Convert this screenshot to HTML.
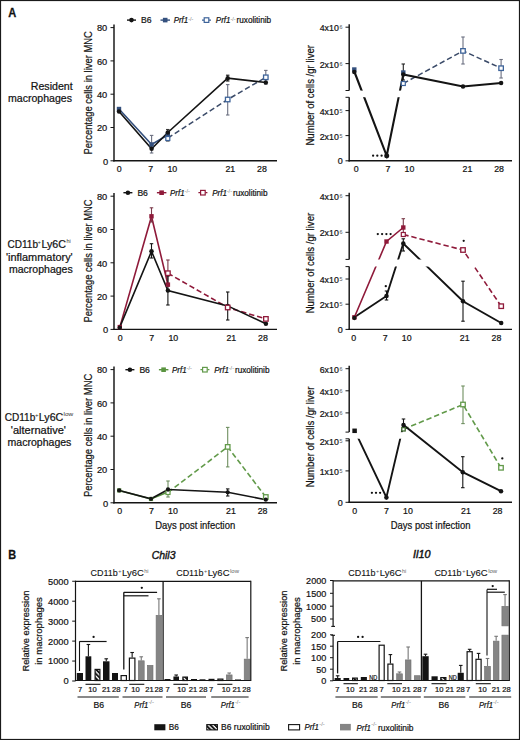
<!DOCTYPE html><html><head><meta charset="utf-8"><style>html,body{margin:0;padding:0;background:#fff;}svg{display:block;} text{stroke:#151515;stroke-width:0.22px;}</style></head><body>
<svg width="520" height="740" viewBox="0 0 520 740" font-family='"Liberation Sans", sans-serif' fill="#111">
<rect x="0" y="0" width="520" height="740" fill="#fff" stroke="none" stroke-width="1"/>
<text x="8.2" y="16.5" font-size="12.8" text-anchor="start" font-weight="bold" textLength="8.0" lengthAdjust="spacingAndGlyphs" style="stroke-width:0.3px">A</text>
<text x="8.3" y="559.1" font-size="12.8" text-anchor="start" font-weight="bold" textLength="7.9" lengthAdjust="spacingAndGlyphs" style="stroke-width:0.3px">B</text>
<text x="30.8" y="89.6" font-size="10.6" text-anchor="start" textLength="41.9" lengthAdjust="spacingAndGlyphs">Resident</text>
<text x="8" y="101.7" font-size="10.6" text-anchor="start" textLength="64" lengthAdjust="spacingAndGlyphs">macrophages</text>
<g transform="translate(0,0)">
<line x1="127" y1="20.1" x2="136" y2="20.1" stroke="#141414" stroke-width="1.4"/>
<circle cx="131.5" cy="20.1" r="2.3" fill="#141414"/>
<text x="141" y="23.3" font-size="8.6" text-anchor="start" textLength="10.5" lengthAdjust="spacingAndGlyphs">B6</text>
<line x1="160.5" y1="20.1" x2="170" y2="20.1" stroke="#34507e" stroke-width="1.4"/>
<rect x="162.89999999999998" y="17.8" width="4.6" height="4.6" fill="#34507e" stroke="none" stroke-width="1"/>
<text x="173.7" y="23.3" font-size="8.6" text-anchor="start" font-style="italic" textLength="14.5" lengthAdjust="spacingAndGlyphs">Prf1</text>
<text x="188.2" y="20.700000000000003" font-size="4.8" text-anchor="start" fill="#777" style="stroke:none" textLength="5.2" lengthAdjust="spacingAndGlyphs">-/-</text>
<line x1="202" y1="20.1" x2="211.4" y2="20.1" stroke="#3d6399" stroke-width="1.3" stroke-dasharray="2,1.5"/>
<rect x="204.2" y="17.8" width="4.6" height="4.6" fill="#fff" stroke="#3d6399" stroke-width="1.2"/>
<text x="215.8" y="23.3" font-size="8.6" text-anchor="start" font-style="italic" textLength="14.7" lengthAdjust="spacingAndGlyphs">Prf1</text>
<text x="230.4" y="20.700000000000003" font-size="4.8" text-anchor="start" fill="#777" style="stroke:none" textLength="5.2" lengthAdjust="spacingAndGlyphs">-/-</text>
<text x="236.5" y="23.3" font-size="8.6" text-anchor="start" textLength="34.6" lengthAdjust="spacingAndGlyphs">ruxolitinib</text>
</g>
<line x1="114" y1="24.400000000000023" x2="114" y2="161.4" stroke="#141414" stroke-width="1.45"/>
<line x1="113.3" y1="160.8" x2="277" y2="160.8" stroke="#141414" stroke-width="1.4"/>
<line x1="110.5" y1="160.8" x2="114" y2="160.8" stroke="#141414" stroke-width="1"/>
<text x="108.10000000000001" y="164.5" font-size="9.6" text-anchor="end" textLength="5.2" lengthAdjust="spacingAndGlyphs">0</text>
<line x1="110.5" y1="127.50000000000001" x2="114" y2="127.50000000000001" stroke="#141414" stroke-width="1"/>
<text x="107.2" y="131.20000000000002" font-size="9.6" text-anchor="end" textLength="10.3" lengthAdjust="spacingAndGlyphs">20</text>
<line x1="110.5" y1="94.20000000000002" x2="114" y2="94.20000000000002" stroke="#141414" stroke-width="1"/>
<text x="107.2" y="97.90000000000002" font-size="9.6" text-anchor="end" textLength="10.3" lengthAdjust="spacingAndGlyphs">40</text>
<line x1="110.5" y1="60.90000000000002" x2="114" y2="60.90000000000002" stroke="#141414" stroke-width="1"/>
<text x="107.2" y="64.60000000000002" font-size="9.6" text-anchor="end" textLength="10.3" lengthAdjust="spacingAndGlyphs">60</text>
<line x1="110.5" y1="27.600000000000023" x2="114" y2="27.600000000000023" stroke="#141414" stroke-width="1"/>
<text x="107.2" y="31.300000000000022" font-size="9.6" text-anchor="end" textLength="10.3" lengthAdjust="spacingAndGlyphs">80</text>
<text transform="translate(91.8,92.8) rotate(-90)" font-size="10.8" text-anchor="middle" textLength="123.2" lengthAdjust="spacingAndGlyphs">Percentage cells in liver MNC</text>
<text x="119.2" y="172.2" font-size="8.8" text-anchor="middle">0</text>
<text x="150.8" y="172.2" font-size="8.8" text-anchor="middle">7</text>
<text x="172.3" y="172.2" font-size="8.8" text-anchor="middle">10</text>
<text x="230.3" y="172.2" font-size="8.8" text-anchor="middle">21</text>
<text x="262.0" y="172.2" font-size="8.8" text-anchor="middle">28</text>
<polyline points="167.8,138 227.7,99.5 265.8,77.3" fill="none" stroke="#3a4a68" stroke-width="1.5" stroke-dasharray="5.4,2.9" stroke-linejoin="miter"/>
<polyline points="119,109 151.6,144.5 167.8,135" fill="none" stroke="#34507e" stroke-width="1.6" stroke-linejoin="miter"/>
<polyline points="119,111.5 151.6,148.8 167.8,132.5 227.7,78.2 265.8,82.5" fill="none" stroke="#141414" stroke-width="1.6" stroke-linejoin="miter"/>
<line x1="151.6" y1="135.4" x2="151.6" y2="153" stroke="#6b6f80" stroke-width="1.1"/>
<line x1="149.85" y1="135.4" x2="153.35" y2="135.4" stroke="#6b6f80" stroke-width="1.1"/>
<line x1="149.85" y1="153" x2="153.35" y2="153" stroke="#6b6f80" stroke-width="1.1"/>
<line x1="167.8" y1="129.5" x2="167.8" y2="141" stroke="#333" stroke-width="1.1"/>
<line x1="166.05" y1="129.5" x2="169.55" y2="129.5" stroke="#333" stroke-width="1.1"/>
<line x1="166.05" y1="141" x2="169.55" y2="141" stroke="#333" stroke-width="1.1"/>
<line x1="227.7" y1="75.2" x2="227.7" y2="81" stroke="#141414" stroke-width="1.1"/>
<line x1="225.95" y1="75.2" x2="229.45" y2="75.2" stroke="#141414" stroke-width="1.1"/>
<line x1="225.95" y1="81" x2="229.45" y2="81" stroke="#141414" stroke-width="1.1"/>
<line x1="227.7" y1="84.6" x2="227.7" y2="115" stroke="#6b6f80" stroke-width="1.1"/>
<line x1="225.95" y1="84.6" x2="229.45" y2="84.6" stroke="#6b6f80" stroke-width="1.1"/>
<line x1="225.95" y1="115" x2="229.45" y2="115" stroke="#6b6f80" stroke-width="1.1"/>
<line x1="265.8" y1="70.4" x2="265.8" y2="84" stroke="#6b6f80" stroke-width="1.1"/>
<line x1="264.05" y1="70.4" x2="267.55" y2="70.4" stroke="#6b6f80" stroke-width="1.1"/>
<line x1="264.05" y1="84" x2="267.55" y2="84" stroke="#6b6f80" stroke-width="1.1"/>
<rect x="116.8" y="106.8" width="4.4" height="4.4" fill="#34507e" stroke="none" stroke-width="1"/>
<circle cx="119" cy="111.5" r="2.25" fill="#141414"/>
<rect x="149.4" y="142.3" width="4.4" height="4.4" fill="#34507e" stroke="none" stroke-width="1"/>
<circle cx="151.6" cy="148.8" r="2.25" fill="#141414"/>
<rect x="165.60000000000002" y="132.8" width="4.4" height="4.4" fill="#34507e" stroke="none" stroke-width="1"/>
<circle cx="167.8" cy="132.5" r="2.25" fill="#141414"/>
<rect x="165.8" y="136.5" width="4.0" height="4.0" fill="#fff" stroke="#3d6399" stroke-width="1.2"/>
<circle cx="227.7" cy="78.2" r="2.25" fill="#141414"/>
<rect x="225.45" y="97.25" width="4.5" height="4.5" fill="#fff" stroke="#3d6399" stroke-width="1.3"/>
<circle cx="265.8" cy="82.5" r="2.25" fill="#141414"/>
<rect x="263.55" y="75.05" width="4.5" height="4.5" fill="#fff" stroke="#3d6399" stroke-width="1.3"/>
<line x1="349.2" y1="24.2" x2="349.2" y2="90.5" stroke="#141414" stroke-width="1.45"/>
<line x1="349.2" y1="97.3" x2="349.2" y2="161.4" stroke="#141414" stroke-width="1.45"/>
<line x1="345.5" y1="90.5" x2="349.2" y2="90.5" stroke="#141414" stroke-width="1"/>
<line x1="345.5" y1="97.3" x2="349.2" y2="97.3" stroke="#141414" stroke-width="1"/>
<line x1="348.5" y1="160.8" x2="512" y2="160.8" stroke="#141414" stroke-width="1.4"/>
<line x1="345.5" y1="27.2" x2="349.2" y2="27.2" stroke="#141414" stroke-width="1"/>
<text x="338.8" y="31.099999999999998" font-size="8.8" text-anchor="end">4x10</text>
<text x="339.6" y="29.099999999999998" font-size="5.4" text-anchor="start" fill="#555" style="stroke:none">6</text>
<line x1="345.5" y1="63.6" x2="349.2" y2="63.6" stroke="#141414" stroke-width="1"/>
<text x="338.8" y="67.5" font-size="8.8" text-anchor="end">2x10</text>
<text x="339.6" y="65.5" font-size="5.4" text-anchor="start" fill="#555" style="stroke:none">6</text>
<line x1="345.5" y1="110.6" x2="349.2" y2="110.6" stroke="#141414" stroke-width="1"/>
<text x="338.8" y="114.5" font-size="8.8" text-anchor="end">4x10</text>
<text x="339.6" y="112.5" font-size="5.4" text-anchor="start" fill="#555" style="stroke:none">5</text>
<line x1="345.5" y1="135.6" x2="349.2" y2="135.6" stroke="#141414" stroke-width="1"/>
<text x="338.8" y="139.5" font-size="8.8" text-anchor="end">2x10</text>
<text x="339.6" y="137.5" font-size="5.4" text-anchor="start" fill="#555" style="stroke:none">5</text>
<line x1="345.5" y1="160.8" x2="349.2" y2="160.8" stroke="#141414" stroke-width="1"/>
<text x="342.8" y="164.0" font-size="9" text-anchor="end">0</text>
<text transform="translate(314.2,95.3) rotate(-90)" font-size="10.8" text-anchor="middle" textLength="100.5" lengthAdjust="spacingAndGlyphs">Number of cells /gr liver</text>
<text x="356.3" y="172.2" font-size="8.8" text-anchor="middle">0</text>
<text x="387.9" y="172.2" font-size="8.8" text-anchor="middle">7</text>
<text x="409.4" y="172.2" font-size="8.8" text-anchor="middle">10</text>
<text x="467.4" y="172.2" font-size="8.8" text-anchor="middle">21</text>
<text x="499.1" y="172.2" font-size="8.8" text-anchor="middle">28</text>
<polyline points="403.3,83.5 463,50.9 501.1,68.2" fill="none" stroke="#3a4a68" stroke-width="1.5" stroke-dasharray="5.4,2.9" stroke-linejoin="miter"/>
<polyline points="354.3,71.5 386.7,155.8 403.3,74.4 463,86.5 501.1,83" fill="none" stroke="#141414" stroke-width="2.1" stroke-linejoin="miter"/>
<rect x="350.5" y="90.6" width="60" height="6.6" fill="#fff" stroke="none" stroke-width="1"/>
<line x1="403.3" y1="64" x2="403.3" y2="80" stroke="#222" stroke-width="1.1"/>
<line x1="401.55" y1="64" x2="405.05" y2="64" stroke="#222" stroke-width="1.1"/>
<line x1="401.55" y1="80" x2="405.05" y2="80" stroke="#222" stroke-width="1.1"/>
<line x1="463" y1="37" x2="463" y2="64" stroke="#6b6f80" stroke-width="1.1"/>
<line x1="461.25" y1="37" x2="464.75" y2="37" stroke="#6b6f80" stroke-width="1.1"/>
<line x1="461.25" y1="64" x2="464.75" y2="64" stroke="#6b6f80" stroke-width="1.1"/>
<line x1="501.1" y1="59.5" x2="501.1" y2="78" stroke="#6b6f80" stroke-width="1.1"/>
<line x1="499.35" y1="59.5" x2="502.85" y2="59.5" stroke="#6b6f80" stroke-width="1.1"/>
<line x1="499.35" y1="78" x2="502.85" y2="78" stroke="#6b6f80" stroke-width="1.1"/>
<rect x="352.1" y="67.3" width="4.4" height="4.4" fill="#34507e" stroke="none" stroke-width="1"/>
<circle cx="354.3" cy="72" r="2.25" fill="#141414"/>
<circle cx="386.7" cy="155.8" r="2.5" fill="#141414"/>
<rect x="401.1" y="70.3" width="4.4" height="4.4" fill="#34507e" stroke="none" stroke-width="1"/>
<circle cx="403.3" cy="74.4" r="2.25" fill="#141414"/>
<rect x="401.3" y="81.5" width="4.0" height="4.0" fill="#fff" stroke="#3d6399" stroke-width="1.2"/>
<circle cx="463" cy="86.5" r="2.25" fill="#141414"/>
<rect x="460.75" y="48.65" width="4.5" height="4.5" fill="#fff" stroke="#3d6399" stroke-width="1.3"/>
<circle cx="501.1" cy="83" r="2.25" fill="#141414"/>
<rect x="498.85" y="65.95" width="4.5" height="4.5" fill="#fff" stroke="#3d6399" stroke-width="1.3"/>
<circle cx="373.1" cy="155.7" r="1.15" fill="#111"/>
<circle cx="377.3" cy="155.7" r="1.15" fill="#111"/>
<circle cx="381.6" cy="155.7" r="1.15" fill="#111"/>
<text x="7.5" y="248.3" font-size="10.6" text-anchor="start" textLength="30.5" lengthAdjust="spacingAndGlyphs">CD11b</text>
<text x="37.6" y="244.0" font-size="6" text-anchor="start" fill="#333" style="stroke:none">+</text>
<text x="41.5" y="248.3" font-size="10.6" text-anchor="start" textLength="24.5" lengthAdjust="spacingAndGlyphs">Ly6C</text>
<text x="66.5" y="243.2" font-size="5.5" text-anchor="start" fill="#333" style="stroke:none">hi</text>
<text x="6" y="261.0" font-size="10.6" text-anchor="start" textLength="66.7" lengthAdjust="spacingAndGlyphs">'inflammatory'</text>
<text x="9" y="272.9" font-size="10.6" text-anchor="start" textLength="63.7" lengthAdjust="spacingAndGlyphs">macrophages</text>
<g transform="translate(-3.6,0)">
<line x1="127" y1="192.7" x2="136" y2="192.7" stroke="#141414" stroke-width="1.4"/>
<circle cx="131.5" cy="192.7" r="2.3" fill="#141414"/>
<text x="141" y="195.89999999999998" font-size="8.6" text-anchor="start" textLength="10.5" lengthAdjust="spacingAndGlyphs">B6</text>
<line x1="160.5" y1="192.7" x2="170" y2="192.7" stroke="#8f1a3a" stroke-width="1.4"/>
<rect x="162.89999999999998" y="190.39999999999998" width="4.6" height="4.6" fill="#8f1a3a" stroke="none" stroke-width="1"/>
<text x="173.7" y="195.89999999999998" font-size="8.6" text-anchor="start" font-style="italic" textLength="14.5" lengthAdjust="spacingAndGlyphs">Prf1</text>
<text x="188.2" y="193.29999999999998" font-size="4.8" text-anchor="start" fill="#777" style="stroke:none" textLength="5.2" lengthAdjust="spacingAndGlyphs">-/-</text>
<line x1="202" y1="192.7" x2="211.4" y2="192.7" stroke="#8f1a3a" stroke-width="1.3" stroke-dasharray="2,1.5"/>
<rect x="204.2" y="190.39999999999998" width="4.6" height="4.6" fill="#fff" stroke="#8f1a3a" stroke-width="1.2"/>
<text x="215.8" y="195.89999999999998" font-size="8.6" text-anchor="start" font-style="italic" textLength="14.7" lengthAdjust="spacingAndGlyphs">Prf1</text>
<text x="230.4" y="193.29999999999998" font-size="4.8" text-anchor="start" fill="#777" style="stroke:none" textLength="5.2" lengthAdjust="spacingAndGlyphs">-/-</text>
<text x="236.5" y="195.89999999999998" font-size="8.6" text-anchor="start" textLength="34.6" lengthAdjust="spacingAndGlyphs">ruxolitinib</text>
</g>
<line x1="114" y1="193.0" x2="114" y2="330.0" stroke="#141414" stroke-width="1.45"/>
<line x1="113.3" y1="329.4" x2="277" y2="329.4" stroke="#141414" stroke-width="1.4"/>
<line x1="110.5" y1="329.4" x2="114" y2="329.4" stroke="#141414" stroke-width="1"/>
<text x="108.10000000000001" y="333.09999999999997" font-size="9.6" text-anchor="end" textLength="5.2" lengthAdjust="spacingAndGlyphs">0</text>
<line x1="110.5" y1="296.09999999999997" x2="114" y2="296.09999999999997" stroke="#141414" stroke-width="1"/>
<text x="107.2" y="299.79999999999995" font-size="9.6" text-anchor="end" textLength="10.3" lengthAdjust="spacingAndGlyphs">20</text>
<line x1="110.5" y1="262.79999999999995" x2="114" y2="262.79999999999995" stroke="#141414" stroke-width="1"/>
<text x="107.2" y="266.49999999999994" font-size="9.6" text-anchor="end" textLength="10.3" lengthAdjust="spacingAndGlyphs">40</text>
<line x1="110.5" y1="229.5" x2="114" y2="229.5" stroke="#141414" stroke-width="1"/>
<text x="107.2" y="233.2" font-size="9.6" text-anchor="end" textLength="10.3" lengthAdjust="spacingAndGlyphs">60</text>
<line x1="110.5" y1="196.2" x2="114" y2="196.2" stroke="#141414" stroke-width="1"/>
<text x="107.2" y="199.89999999999998" font-size="9.6" text-anchor="end" textLength="10.3" lengthAdjust="spacingAndGlyphs">80</text>
<text transform="translate(91.8,261) rotate(-90)" font-size="10.8" text-anchor="middle" textLength="123.2" lengthAdjust="spacingAndGlyphs">Percentage cells in liver MNC</text>
<text x="120.2" y="340.9" font-size="8.8" text-anchor="middle">0</text>
<text x="151.8" y="340.9" font-size="8.8" text-anchor="middle">7</text>
<text x="173.3" y="340.9" font-size="8.8" text-anchor="middle">10</text>
<text x="231.3" y="340.9" font-size="8.8" text-anchor="middle">21</text>
<text x="263.0" y="340.9" font-size="8.8" text-anchor="middle">28</text>
<polyline points="167.9,273.2 227.7,307.5 265.9,318.9" fill="none" stroke="#8f1a3a" stroke-width="1.6" stroke-dasharray="5.4,2.9" stroke-linejoin="miter"/>
<polyline points="119.8,327.1 151.5,216.5 167.9,284.6" fill="none" stroke="#8f1a3a" stroke-width="1.6" stroke-linejoin="miter"/>
<polyline points="119.8,327.1 151.5,251.3 167.9,290.5 227.7,305.9 265.9,323.8" fill="none" stroke="#141414" stroke-width="1.6" stroke-linejoin="miter"/>
<line x1="151.5" y1="207.8" x2="151.5" y2="222" stroke="#7a3a4a" stroke-width="1.1"/>
<line x1="149.75" y1="207.8" x2="153.25" y2="207.8" stroke="#7a3a4a" stroke-width="1.1"/>
<line x1="149.75" y1="222" x2="153.25" y2="222" stroke="#7a3a4a" stroke-width="1.1"/>
<line x1="151.5" y1="243.7" x2="151.5" y2="258" stroke="#141414" stroke-width="1.1"/>
<line x1="149.75" y1="243.7" x2="153.25" y2="243.7" stroke="#141414" stroke-width="1.1"/>
<line x1="149.75" y1="258" x2="153.25" y2="258" stroke="#141414" stroke-width="1.1"/>
<line x1="167.9" y1="260" x2="167.9" y2="286" stroke="#7a3a4a" stroke-width="1.1"/>
<line x1="166.15" y1="260" x2="169.65" y2="260" stroke="#7a3a4a" stroke-width="1.1"/>
<line x1="166.15" y1="286" x2="169.65" y2="286" stroke="#7a3a4a" stroke-width="1.1"/>
<line x1="167.9" y1="276" x2="167.9" y2="305" stroke="#141414" stroke-width="1.1"/>
<line x1="166.15" y1="276" x2="169.65" y2="276" stroke="#141414" stroke-width="1.1"/>
<line x1="166.15" y1="305" x2="169.65" y2="305" stroke="#141414" stroke-width="1.1"/>
<line x1="227.7" y1="292" x2="227.7" y2="320" stroke="#141414" stroke-width="1.1"/>
<line x1="225.95" y1="292" x2="229.45" y2="292" stroke="#141414" stroke-width="1.1"/>
<line x1="225.95" y1="320" x2="229.45" y2="320" stroke="#141414" stroke-width="1.1"/>
<rect x="117.6" y="324.90000000000003" width="4.4" height="4.4" fill="#8f1a3a" stroke="none" stroke-width="1"/>
<circle cx="119.8" cy="327.6" r="2.15" fill="#141414"/>
<rect x="149.3" y="214.10000000000002" width="4.4" height="4.4" fill="#8f1a3a" stroke="none" stroke-width="1"/>
<circle cx="151.5" cy="251.3" r="2.25" fill="#141414"/>
<rect x="165.70000000000002" y="282.40000000000003" width="4.4" height="4.4" fill="#8f1a3a" stroke="none" stroke-width="1"/>
<circle cx="167.9" cy="290.5" r="2.25" fill="#141414"/>
<rect x="165.65" y="270.95" width="4.5" height="4.5" fill="#fff" stroke="#8f1a3a" stroke-width="1.3"/>
<circle cx="227.7" cy="305.9" r="2.25" fill="#141414"/>
<rect x="225.45" y="305.25" width="4.5" height="4.5" fill="#fff" stroke="#8f1a3a" stroke-width="1.3"/>
<circle cx="265.9" cy="323.8" r="2.25" fill="#141414"/>
<rect x="263.65" y="316.65" width="4.5" height="4.5" fill="#fff" stroke="#8f1a3a" stroke-width="1.3"/>
<line x1="349.2" y1="192.7" x2="349.2" y2="259.4" stroke="#141414" stroke-width="1.45"/>
<line x1="349.2" y1="266.6" x2="349.2" y2="330.0" stroke="#141414" stroke-width="1.45"/>
<line x1="345.5" y1="259.4" x2="349.2" y2="259.4" stroke="#141414" stroke-width="1"/>
<line x1="345.5" y1="266.6" x2="349.2" y2="266.6" stroke="#141414" stroke-width="1"/>
<line x1="348.5" y1="329.4" x2="512" y2="329.4" stroke="#141414" stroke-width="1.4"/>
<line x1="345.5" y1="195.7" x2="349.2" y2="195.7" stroke="#141414" stroke-width="1"/>
<text x="338.8" y="199.6" font-size="8.8" text-anchor="end">4x10</text>
<text x="339.6" y="197.6" font-size="5.4" text-anchor="start" fill="#555" style="stroke:none">6</text>
<line x1="345.5" y1="232.3" x2="349.2" y2="232.3" stroke="#141414" stroke-width="1"/>
<text x="338.8" y="236.20000000000002" font-size="8.8" text-anchor="end">2x10</text>
<text x="339.6" y="234.20000000000002" font-size="5.4" text-anchor="start" fill="#555" style="stroke:none">6</text>
<line x1="345.5" y1="279" x2="349.2" y2="279" stroke="#141414" stroke-width="1"/>
<text x="338.8" y="282.9" font-size="8.8" text-anchor="end">4x10</text>
<text x="339.6" y="280.9" font-size="5.4" text-anchor="start" fill="#555" style="stroke:none">5</text>
<line x1="345.5" y1="304.2" x2="349.2" y2="304.2" stroke="#141414" stroke-width="1"/>
<text x="338.8" y="308.09999999999997" font-size="8.8" text-anchor="end">2x10</text>
<text x="339.6" y="306.09999999999997" font-size="5.4" text-anchor="start" fill="#555" style="stroke:none">5</text>
<line x1="345.5" y1="329.4" x2="349.2" y2="329.4" stroke="#141414" stroke-width="1"/>
<text x="342.8" y="332.59999999999997" font-size="9" text-anchor="end">0</text>
<text transform="translate(314.2,263.1) rotate(-90)" font-size="10.8" text-anchor="middle" textLength="100.5" lengthAdjust="spacingAndGlyphs">Number of cells /gr liver</text>
<text x="353.6" y="340.9" font-size="8.8" text-anchor="middle">0</text>
<text x="385.20000000000005" y="340.9" font-size="8.8" text-anchor="middle">7</text>
<text x="406.70000000000005" y="340.9" font-size="8.8" text-anchor="middle">10</text>
<text x="464.70000000000005" y="340.9" font-size="8.8" text-anchor="middle">21</text>
<text x="496.4" y="340.9" font-size="8.8" text-anchor="middle">28</text>
<polyline points="403.3,234.5 463,250 501.2,306.2" fill="none" stroke="#8f1a3a" stroke-width="1.6" stroke-dasharray="5.4,2.9" stroke-linejoin="miter"/>
<polyline points="354.4,317.3 386.5,241.5 403.3,227.5" fill="none" stroke="#8f1a3a" stroke-width="1.6" stroke-linejoin="miter"/>
<polyline points="354.4,317.3 386.5,296 403.3,243.5 463,301.25 501.2,323" fill="none" stroke="#141414" stroke-width="1.9" stroke-linejoin="miter"/>
<rect x="350.5" y="259.5" width="155" height="7" fill="#fff" stroke="none" stroke-width="1"/>
<line x1="386.5" y1="291" x2="386.5" y2="300" stroke="#141414" stroke-width="1.1"/>
<line x1="384.75" y1="291" x2="388.25" y2="291" stroke="#141414" stroke-width="1.1"/>
<line x1="384.75" y1="300" x2="388.25" y2="300" stroke="#141414" stroke-width="1.1"/>
<line x1="403.3" y1="218.7" x2="403.3" y2="236" stroke="#7a3a4a" stroke-width="1.1"/>
<line x1="401.55" y1="218.7" x2="405.05" y2="218.7" stroke="#7a3a4a" stroke-width="1.1"/>
<line x1="401.55" y1="236" x2="405.05" y2="236" stroke="#7a3a4a" stroke-width="1.1"/>
<line x1="403.3" y1="238.8" x2="403.3" y2="251" stroke="#141414" stroke-width="1.1"/>
<line x1="401.55" y1="238.8" x2="405.05" y2="238.8" stroke="#141414" stroke-width="1.1"/>
<line x1="401.55" y1="251" x2="405.05" y2="251" stroke="#141414" stroke-width="1.1"/>
<line x1="463" y1="281.2" x2="463" y2="321.2" stroke="#141414" stroke-width="1.1"/>
<line x1="461.25" y1="281.2" x2="464.75" y2="281.2" stroke="#141414" stroke-width="1.1"/>
<line x1="461.25" y1="321.2" x2="464.75" y2="321.2" stroke="#141414" stroke-width="1.1"/>
<rect x="352.2" y="315.1" width="4.4" height="4.4" fill="#8f1a3a" stroke="none" stroke-width="1"/>
<circle cx="354.4" cy="318" r="2.15" fill="#141414"/>
<rect x="384.3" y="239.3" width="4.4" height="4.4" fill="#8f1a3a" stroke="none" stroke-width="1"/>
<circle cx="386.5" cy="296" r="2.25" fill="#141414"/>
<rect x="401.1" y="225.3" width="4.4" height="4.4" fill="#8f1a3a" stroke="none" stroke-width="1"/>
<rect x="401.3" y="232.5" width="4.0" height="4.0" fill="#fff" stroke="#8f1a3a" stroke-width="1.2"/>
<circle cx="403.3" cy="243.5" r="2.25" fill="#141414"/>
<rect x="460.75" y="247.75" width="4.5" height="4.5" fill="#fff" stroke="#8f1a3a" stroke-width="1.3"/>
<circle cx="463" cy="301.25" r="2.25" fill="#141414"/>
<rect x="498.95" y="303.95" width="4.5" height="4.5" fill="#fff" stroke="#8f1a3a" stroke-width="1.3"/>
<circle cx="501.2" cy="323" r="2.25" fill="#141414"/>
<circle cx="377.8" cy="234.1" r="1.15" fill="#111"/>
<circle cx="382.1" cy="234.1" r="1.15" fill="#111"/>
<circle cx="386.4" cy="234.1" r="1.15" fill="#111"/>
<circle cx="390.6" cy="234.1" r="1.15" fill="#111"/>
<circle cx="385.8" cy="286.2" r="1.15" fill="#111"/>
<circle cx="463.7" cy="240.8" r="1.15" fill="#111"/>
<text x="4.8" y="420.8" font-size="10.6" text-anchor="start" textLength="30.5" lengthAdjust="spacingAndGlyphs">CD11b</text>
<text x="35" y="416.5" font-size="6" text-anchor="start" fill="#333" style="stroke:none">+</text>
<text x="38.8" y="420.8" font-size="10.6" text-anchor="start" textLength="24.5" lengthAdjust="spacingAndGlyphs">Ly6C</text>
<text x="63.5" y="415.6" font-size="5.5" text-anchor="start" fill="#333" style="stroke:none" textLength="9.7" lengthAdjust="spacingAndGlyphs">low</text>
<text x="10.8" y="433.5" font-size="10.6" text-anchor="start" textLength="55.2" lengthAdjust="spacingAndGlyphs">'alternative'</text>
<text x="7.5" y="446.2" font-size="10.6" text-anchor="start" textLength="63.9" lengthAdjust="spacingAndGlyphs">macrophages</text>
<g transform="translate(-1.6,0)">
<line x1="127" y1="369.7" x2="136" y2="369.7" stroke="#141414" stroke-width="1.4"/>
<circle cx="131.5" cy="369.7" r="2.3" fill="#141414"/>
<text x="141" y="372.9" font-size="8.6" text-anchor="start" textLength="10.5" lengthAdjust="spacingAndGlyphs">B6</text>
<line x1="160.5" y1="369.7" x2="170" y2="369.7" stroke="#5a9440" stroke-width="1.4"/>
<rect x="162.89999999999998" y="367.4" width="4.6" height="4.6" fill="#5a9440" stroke="none" stroke-width="1"/>
<text x="173.7" y="372.9" font-size="8.6" text-anchor="start" font-style="italic" textLength="14.5" lengthAdjust="spacingAndGlyphs">Prf1</text>
<text x="188.2" y="370.3" font-size="4.8" text-anchor="start" fill="#777" style="stroke:none" textLength="5.2" lengthAdjust="spacingAndGlyphs">-/-</text>
<line x1="202" y1="369.7" x2="211.4" y2="369.7" stroke="#629a4a" stroke-width="1.3" stroke-dasharray="2,1.5"/>
<rect x="204.2" y="367.4" width="4.6" height="4.6" fill="#fff" stroke="#629a4a" stroke-width="1.2"/>
<text x="215.8" y="372.9" font-size="8.6" text-anchor="start" font-style="italic" textLength="14.7" lengthAdjust="spacingAndGlyphs">Prf1</text>
<text x="230.4" y="370.3" font-size="4.8" text-anchor="start" fill="#777" style="stroke:none" textLength="5.2" lengthAdjust="spacingAndGlyphs">-/-</text>
<text x="236.5" y="372.9" font-size="8.6" text-anchor="start" textLength="34.6" lengthAdjust="spacingAndGlyphs">ruxolitinib</text>
</g>
<line x1="114" y1="366.40000000000003" x2="114" y2="503.40000000000003" stroke="#141414" stroke-width="1.45"/>
<line x1="113.3" y1="502.8" x2="277" y2="502.8" stroke="#141414" stroke-width="1.4"/>
<line x1="110.5" y1="502.8" x2="114" y2="502.8" stroke="#141414" stroke-width="1"/>
<text x="108.10000000000001" y="506.5" font-size="9.6" text-anchor="end" textLength="5.2" lengthAdjust="spacingAndGlyphs">0</text>
<line x1="110.5" y1="469.5" x2="114" y2="469.5" stroke="#141414" stroke-width="1"/>
<text x="107.2" y="473.2" font-size="9.6" text-anchor="end" textLength="10.3" lengthAdjust="spacingAndGlyphs">20</text>
<line x1="110.5" y1="436.20000000000005" x2="114" y2="436.20000000000005" stroke="#141414" stroke-width="1"/>
<text x="107.2" y="439.90000000000003" font-size="9.6" text-anchor="end" textLength="10.3" lengthAdjust="spacingAndGlyphs">40</text>
<line x1="110.5" y1="402.90000000000003" x2="114" y2="402.90000000000003" stroke="#141414" stroke-width="1"/>
<text x="107.2" y="406.6" font-size="9.6" text-anchor="end" textLength="10.3" lengthAdjust="spacingAndGlyphs">60</text>
<line x1="110.5" y1="369.6" x2="114" y2="369.6" stroke="#141414" stroke-width="1"/>
<text x="107.2" y="373.3" font-size="9.6" text-anchor="end" textLength="10.3" lengthAdjust="spacingAndGlyphs">80</text>
<text transform="translate(91.8,435.4) rotate(-90)" font-size="10.8" text-anchor="middle" textLength="123.2" lengthAdjust="spacingAndGlyphs">Percentage cells in liver MNC</text>
<text x="119.8" y="514" font-size="8.8" text-anchor="middle">0</text>
<text x="151.4" y="514" font-size="8.8" text-anchor="middle">7</text>
<text x="172.9" y="514" font-size="8.8" text-anchor="middle">10</text>
<text x="230.9" y="514" font-size="8.8" text-anchor="middle">21</text>
<text x="262.6" y="514" font-size="8.8" text-anchor="middle">28</text>
<text x="195.2" y="528.6" font-size="10.6" text-anchor="middle" textLength="80" lengthAdjust="spacingAndGlyphs">Days post infection</text>
<polyline points="168,492.5 227.7,446.9 265.8,497" fill="none" stroke="#629a4a" stroke-width="1.6" stroke-dasharray="5.4,2.9" stroke-linejoin="miter"/>
<polyline points="119.2,490.4 151,499 168,492" fill="none" stroke="#5a9440" stroke-width="1.6" stroke-linejoin="miter"/>
<polyline points="119.2,490.4 151,498.8 168,489.5 227.7,492.3 265.8,499.7" fill="none" stroke="#141414" stroke-width="1.6" stroke-linejoin="miter"/>
<line x1="168" y1="481" x2="168" y2="497" stroke="#6f8f60" stroke-width="1.1"/>
<line x1="166.25" y1="481" x2="169.75" y2="481" stroke="#6f8f60" stroke-width="1.1"/>
<line x1="166.25" y1="497" x2="169.75" y2="497" stroke="#6f8f60" stroke-width="1.1"/>
<line x1="227.7" y1="427.4" x2="227.7" y2="466.9" stroke="#6f8f60" stroke-width="1.1"/>
<line x1="225.95" y1="427.4" x2="229.45" y2="427.4" stroke="#6f8f60" stroke-width="1.1"/>
<line x1="225.95" y1="466.9" x2="229.45" y2="466.9" stroke="#6f8f60" stroke-width="1.1"/>
<line x1="227.7" y1="488.9" x2="227.7" y2="496" stroke="#141414" stroke-width="1.1"/>
<line x1="225.95" y1="488.9" x2="229.45" y2="488.9" stroke="#141414" stroke-width="1.1"/>
<line x1="225.95" y1="496" x2="229.45" y2="496" stroke="#141414" stroke-width="1.1"/>
<rect x="117.10000000000001" y="488.29999999999995" width="4.2" height="4.2" fill="#5a9440" stroke="none" stroke-width="1"/>
<circle cx="119.2" cy="490.4" r="2.15" fill="#141414"/>
<rect x="148.9" y="496.9" width="4.2" height="4.2" fill="#5a9440" stroke="none" stroke-width="1"/>
<circle cx="151" cy="498.8" r="2.15" fill="#141414"/>
<rect x="165.9" y="489.9" width="4.2" height="4.2" fill="#5a9440" stroke="none" stroke-width="1"/>
<rect x="166.0" y="490.5" width="4.0" height="4.0" fill="#fff" stroke="#629a4a" stroke-width="1.2"/>
<circle cx="168" cy="489.5" r="2.15" fill="#141414"/>
<rect x="225.45" y="444.65" width="4.5" height="4.5" fill="#fff" stroke="#629a4a" stroke-width="1.3"/>
<circle cx="227.7" cy="492.3" r="2.15" fill="#141414"/>
<rect x="263.55" y="494.75" width="4.5" height="4.5" fill="#fff" stroke="#629a4a" stroke-width="1.3"/>
<circle cx="265.8" cy="499.7" r="2.15" fill="#141414"/>
<line x1="349.2" y1="365.7" x2="349.2" y2="432.1" stroke="#141414" stroke-width="1.45"/>
<line x1="349.2" y1="438.8" x2="349.2" y2="502.90000000000003" stroke="#141414" stroke-width="1.45"/>
<line x1="345.5" y1="432.1" x2="349.2" y2="432.1" stroke="#141414" stroke-width="1"/>
<line x1="345.5" y1="438.8" x2="349.2" y2="438.8" stroke="#141414" stroke-width="1"/>
<line x1="348.5" y1="502.3" x2="512" y2="502.3" stroke="#141414" stroke-width="1.4"/>
<line x1="345.5" y1="368.7" x2="349.2" y2="368.7" stroke="#141414" stroke-width="1"/>
<text x="338.8" y="372.59999999999997" font-size="8.8" text-anchor="end">6x10</text>
<text x="339.6" y="370.59999999999997" font-size="5.4" text-anchor="start" fill="#555" style="stroke:none">6</text>
<line x1="345.5" y1="390.8" x2="349.2" y2="390.8" stroke="#141414" stroke-width="1"/>
<text x="338.8" y="394.7" font-size="8.8" text-anchor="end">4x10</text>
<text x="339.6" y="392.7" font-size="5.4" text-anchor="start" fill="#555" style="stroke:none">6</text>
<line x1="345.5" y1="412.9" x2="349.2" y2="412.9" stroke="#141414" stroke-width="1"/>
<text x="338.8" y="416.79999999999995" font-size="8.8" text-anchor="end">2x10</text>
<text x="339.6" y="414.79999999999995" font-size="5.4" text-anchor="start" fill="#555" style="stroke:none">6</text>
<line x1="345.5" y1="440.8" x2="349.2" y2="440.8" stroke="#141414" stroke-width="1"/>
<text x="338.8" y="444.7" font-size="8.8" text-anchor="end">2x10</text>
<text x="339.6" y="442.7" font-size="5.4" text-anchor="start" fill="#555" style="stroke:none">5</text>
<line x1="345.5" y1="470.9" x2="349.2" y2="470.9" stroke="#141414" stroke-width="1"/>
<text x="338.8" y="474.79999999999995" font-size="8.8" text-anchor="end">1x10</text>
<text x="339.6" y="472.79999999999995" font-size="5.4" text-anchor="start" fill="#555" style="stroke:none">5</text>
<line x1="345.5" y1="502.3" x2="349.2" y2="502.3" stroke="#141414" stroke-width="1"/>
<text x="342.8" y="505.5" font-size="9" text-anchor="end">0</text>
<text transform="translate(314.2,436.9) rotate(-90)" font-size="10.8" text-anchor="middle" textLength="100.5" lengthAdjust="spacingAndGlyphs">Number of cells /gr liver</text>
<text x="354.8" y="514" font-size="8.8" text-anchor="middle">0</text>
<text x="386.4" y="514" font-size="8.8" text-anchor="middle">7</text>
<text x="407.9" y="514" font-size="8.8" text-anchor="middle">10</text>
<text x="465.9" y="514" font-size="8.8" text-anchor="middle">21</text>
<text x="497.6" y="514" font-size="8.8" text-anchor="middle">28</text>
<text x="430.6" y="528.6" font-size="10.6" text-anchor="middle" textLength="79.6" lengthAdjust="spacingAndGlyphs">Days post infection</text>
<polyline points="403.5,429.3 463,404.5 501,467.8" fill="none" stroke="#629a4a" stroke-width="1.6" stroke-dasharray="5.4,2.9" stroke-linejoin="miter"/>
<polyline points="354.8,430.8 386.4,497.4 403.5,424.9 462.8,472.2 501,491.2" fill="none" stroke="#141414" stroke-width="1.9" stroke-linejoin="miter"/>
<rect x="350.5" y="432.2" width="60" height="6.5" fill="#fff" stroke="none" stroke-width="1"/>
<line x1="403.5" y1="419" x2="403.5" y2="430" stroke="#141414" stroke-width="1.1"/>
<line x1="401.75" y1="419" x2="405.25" y2="419" stroke="#141414" stroke-width="1.1"/>
<line x1="401.75" y1="430" x2="405.25" y2="430" stroke="#141414" stroke-width="1.1"/>
<line x1="463" y1="386" x2="463" y2="423.6" stroke="#6f8f60" stroke-width="1.1"/>
<line x1="461.25" y1="386" x2="464.75" y2="386" stroke="#6f8f60" stroke-width="1.1"/>
<line x1="461.25" y1="423.6" x2="464.75" y2="423.6" stroke="#6f8f60" stroke-width="1.1"/>
<line x1="462.8" y1="456.7" x2="462.8" y2="487.7" stroke="#141414" stroke-width="1.1"/>
<line x1="461.05" y1="456.7" x2="464.55" y2="456.7" stroke="#141414" stroke-width="1.1"/>
<line x1="461.05" y1="487.7" x2="464.55" y2="487.7" stroke="#141414" stroke-width="1.1"/>
<rect x="352.35" y="428.55" width="4.5" height="4.5" fill="#141414" stroke="none" stroke-width="1"/>
<circle cx="386.4" cy="497.4" r="2.25" fill="#141414"/>
<rect x="401.8" y="427.6" width="3.4" height="3.4" fill="#fff" stroke="#3f6a30" stroke-width="1.3"/>
<circle cx="403.5" cy="424.9" r="2.25" fill="#141414"/>
<rect x="460.75" y="402.25" width="4.5" height="4.5" fill="#fff" stroke="#629a4a" stroke-width="1.3"/>
<circle cx="462.8" cy="472.2" r="2.25" fill="#141414"/>
<rect x="498.75" y="465.55" width="4.5" height="4.5" fill="#fff" stroke="#629a4a" stroke-width="1.3"/>
<circle cx="501" cy="491.2" r="2.25" fill="#141414"/>
<circle cx="371.9" cy="492.8" r="1.15" fill="#111"/>
<circle cx="376" cy="492.8" r="1.15" fill="#111"/>
<circle cx="380.1" cy="492.8" r="1.15" fill="#111"/>
<circle cx="502.3" cy="458.4" r="1.15" fill="#111"/>
<text x="163.6" y="558.5" font-size="10.6" text-anchor="middle" font-style="italic" textLength="23.8" lengthAdjust="spacingAndGlyphs" style="stroke-width:0.4px">Chil3</text>
<text x="421.8" y="558.0" font-size="10.6" text-anchor="middle" font-style="italic" textLength="17.4" lengthAdjust="spacingAndGlyphs" style="stroke-width:0.45px">Il10</text>
<defs><pattern id="hatch" patternUnits="userSpaceOnUse" width="3.2" height="3.2" patternTransform="rotate(-45)"><rect width="3.4" height="3.4" fill="#fff"/><rect width="1.9" height="3.4" fill="#111"/></pattern></defs>
<text x="90.5" y="575.8" font-size="9.6" text-anchor="start" textLength="27.2" lengthAdjust="spacingAndGlyphs" style="stroke-width:0.1px">CD11b</text>
<text x="118.3" y="573.1999999999999" font-size="5.5" text-anchor="start" fill="#555" style="stroke:none">+</text>
<text x="122.0" y="575.8" font-size="9.6" text-anchor="start" textLength="21.8" lengthAdjust="spacingAndGlyphs" style="stroke-width:0.1px">Ly6C</text>
<text x="144.3" y="572.8" font-size="5" text-anchor="start" fill="#666" style="stroke:none" textLength="4.2" lengthAdjust="spacingAndGlyphs">hi</text>
<text x="176.2" y="575.8" font-size="9.6" text-anchor="start" textLength="27.2" lengthAdjust="spacingAndGlyphs" style="stroke-width:0.1px">CD11b</text>
<text x="204.0" y="573.1999999999999" font-size="5.5" text-anchor="start" fill="#555" style="stroke:none">+</text>
<text x="207.7" y="575.8" font-size="9.6" text-anchor="start" textLength="21.8" lengthAdjust="spacingAndGlyphs" style="stroke-width:0.1px">Ly6C</text>
<text x="230.0" y="572.8" font-size="5" text-anchor="start" fill="#666" style="stroke:none" textLength="9" lengthAdjust="spacingAndGlyphs">low</text>
<text transform="translate(29.3,631) rotate(-90)" font-size="9.6" text-anchor="middle" textLength="81" lengthAdjust="spacingAndGlyphs">Relative expression</text>
<text transform="translate(42.3,631) rotate(-90)" font-size="9.6" text-anchor="middle" textLength="67.5" lengthAdjust="spacingAndGlyphs">in macrophages</text>
<rect x="76.8" y="673" width="6.200000000000003" height="7.5" fill="#141414" stroke="none" stroke-width="1"/>
<rect x="85.5" y="656.3" width="5.799999999999997" height="24.200000000000045" fill="#141414" stroke="none" stroke-width="1"/>
<line x1="88.4" y1="644.5" x2="88.4" y2="656.3" stroke="#141414" stroke-width="1.1"/>
<line x1="86.60000000000001" y1="644.5" x2="90.2" y2="644.5" stroke="#141414" stroke-width="1.1"/>
<rect x="95.1" y="669.4" width="4.8" height="11.100000000000046" fill="url(#hatch)" stroke="#141414" stroke-width="1.2"/>
<rect x="103" y="661.3" width="6.5" height="19.200000000000045" fill="#141414" stroke="none" stroke-width="1"/>
<line x1="106.25" y1="658.8" x2="106.25" y2="661.3" stroke="#141414" stroke-width="1.1"/>
<line x1="104.45" y1="658.8" x2="108.05" y2="658.8" stroke="#141414" stroke-width="1.1"/>
<rect x="112" y="673" width="6" height="7.5" fill="#141414" stroke="none" stroke-width="1"/>
<rect x="121.1" y="675.6" width="5.3" height="4.9" fill="#fff" stroke="#141414" stroke-width="1.2"/>
<rect x="129.4" y="658.1" width="5.4999999999999885" height="22.4" fill="#fff" stroke="#141414" stroke-width="1.2"/>
<line x1="132.15" y1="652.5" x2="132.15" y2="657.5" stroke="#141414" stroke-width="1.1"/>
<line x1="130.35" y1="652.5" x2="133.95000000000002" y2="652.5" stroke="#141414" stroke-width="1.1"/>
<rect x="138.3" y="660.8" width="5.9" height="19.7" fill="#858585" stroke="#707070" stroke-width="0.6"/>
<line x1="141.25" y1="656.8" x2="141.25" y2="660.5" stroke="#777" stroke-width="1.1"/>
<line x1="139.45" y1="656.8" x2="143.05" y2="656.8" stroke="#777" stroke-width="1.1"/>
<rect x="147.3" y="665.3" width="5.700000000000012" height="15.2" fill="#858585" stroke="#707070" stroke-width="0.6"/>
<rect x="156.10000000000002" y="615.3" width="5.599999999999989" height="65.2" fill="#858585" stroke="#707070" stroke-width="0.6"/>
<line x1="158.9" y1="598.8" x2="158.9" y2="615" stroke="#777" stroke-width="1.1"/>
<line x1="157.1" y1="598.8" x2="160.70000000000002" y2="598.8" stroke="#777" stroke-width="1.1"/>
<rect x="164.5" y="679" width="6.0" height="1.5" fill="#141414" stroke="none" stroke-width="1"/>
<rect x="173.4" y="676.5" width="5.599999999999994" height="4.0" fill="#141414" stroke="none" stroke-width="1"/>
<line x1="176.2" y1="675" x2="176.2" y2="676.5" stroke="#141414" stroke-width="1.1"/>
<line x1="174.39999999999998" y1="675" x2="178.0" y2="675" stroke="#141414" stroke-width="1.1"/>
<rect x="182.9" y="677.1" width="4.4999999999999885" height="3.4" fill="url(#hatch)" stroke="#141414" stroke-width="1.2"/>
<rect x="191" y="679" width="6" height="1.5" fill="#141414" stroke="none" stroke-width="1"/>
<rect x="199.5" y="679.3" width="6.0" height="1.2000000000000455" fill="#141414" stroke="none" stroke-width="1"/>
<rect x="209.1" y="679.4" width="4.8" height="1.1000000000000454" fill="#fff" stroke="#141414" stroke-width="1.2"/>
<rect x="217.9" y="679.1" width="4.9999999999999885" height="1.4" fill="#fff" stroke="#141414" stroke-width="1.2"/>
<rect x="226.3" y="674.9" width="5.800000000000006" height="5.599999999999977" fill="#858585" stroke="#707070" stroke-width="0.6"/>
<line x1="229.2" y1="673" x2="229.2" y2="674.6" stroke="#777" stroke-width="1.1"/>
<line x1="227.39999999999998" y1="673" x2="231.0" y2="673" stroke="#777" stroke-width="1.1"/>
<rect x="235.3" y="679.3" width="5.4" height="1.2" fill="#858585" stroke="#707070" stroke-width="0.6"/>
<rect x="244.20000000000002" y="659.0999999999999" width="5.9" height="21.400000000000045" fill="#858585" stroke="#707070" stroke-width="0.6"/>
<line x1="247.15" y1="637.6" x2="247.15" y2="658.8" stroke="#777" stroke-width="1.1"/>
<line x1="245.35" y1="637.6" x2="248.95000000000002" y2="637.6" stroke="#777" stroke-width="1.1"/>
<line x1="75.5" y1="581.3" x2="250.8" y2="581.3" stroke="#141414" stroke-width="1.2"/>
<line x1="75.5" y1="580.6999999999999" x2="75.5" y2="681.1" stroke="#141414" stroke-width="1.2"/>
<line x1="250.8" y1="580.6999999999999" x2="250.8" y2="681.1" stroke="#141414" stroke-width="1.2"/>
<line x1="163.1" y1="581.3" x2="163.1" y2="680.5" stroke="#141414" stroke-width="1.3"/>
<line x1="75.5" y1="680.5" x2="250.8" y2="680.5" stroke="#141414" stroke-width="1.2"/>
<line x1="72.2" y1="681.0" x2="75.5" y2="681.0" stroke="#141414" stroke-width="1"/>
<text x="68.6" y="684.4" font-size="9.9" text-anchor="end" textLength="5.2" lengthAdjust="spacingAndGlyphs">0</text>
<line x1="72.2" y1="661.05" x2="75.5" y2="661.05" stroke="#141414" stroke-width="1"/>
<text x="68.6" y="664.4499999999999" font-size="9.9" text-anchor="end" textLength="20.5" lengthAdjust="spacingAndGlyphs">1000</text>
<line x1="72.2" y1="641.1" x2="75.5" y2="641.1" stroke="#141414" stroke-width="1"/>
<text x="68.6" y="644.5" font-size="9.9" text-anchor="end" textLength="20.5" lengthAdjust="spacingAndGlyphs">2000</text>
<line x1="72.2" y1="621.15" x2="75.5" y2="621.15" stroke="#141414" stroke-width="1"/>
<text x="68.6" y="624.55" font-size="9.9" text-anchor="end" textLength="20.5" lengthAdjust="spacingAndGlyphs">3000</text>
<line x1="72.2" y1="601.2" x2="75.5" y2="601.2" stroke="#141414" stroke-width="1"/>
<text x="68.6" y="604.6" font-size="9.9" text-anchor="end" textLength="20.5" lengthAdjust="spacingAndGlyphs">4000</text>
<line x1="72.2" y1="581.25" x2="75.5" y2="581.25" stroke="#141414" stroke-width="1"/>
<text x="68.6" y="584.65" font-size="9.9" text-anchor="end" textLength="20.5" lengthAdjust="spacingAndGlyphs">5000</text>
<line x1="79.5" y1="641.5" x2="106.6" y2="641.5" stroke="#141414" stroke-width="1.2"/>
<line x1="79.5" y1="641.3" x2="79.5" y2="671" stroke="#141414" stroke-width="1.1"/>
<circle cx="93.6" cy="636.9" r="1.15" fill="#111"/>
<line x1="123.8" y1="592.3" x2="157.1" y2="592.3" stroke="#141414" stroke-width="1.2"/>
<line x1="123.8" y1="595.8" x2="148.5" y2="595.8" stroke="#141414" stroke-width="1.2"/>
<line x1="123.8" y1="592.3" x2="123.8" y2="669.5" stroke="#141414" stroke-width="1.3"/>
<circle cx="141.8" cy="587.8" r="1.15" fill="#111"/>
<text x="80" y="692.2" font-size="7.6" text-anchor="middle">7</text>
<text x="92.5" y="692.2" font-size="7.6" text-anchor="middle">10</text>
<text x="106.3" y="692.2" font-size="7.6" text-anchor="middle">21</text>
<text x="116.3" y="692.2" font-size="7.6" text-anchor="middle">28</text>
<text x="125.5" y="692.2" font-size="7.6" text-anchor="middle">7</text>
<text x="135.5" y="692.2" font-size="7.6" text-anchor="middle">10</text>
<text x="149.5" y="692.2" font-size="7.6" text-anchor="middle">21</text>
<text x="158.8" y="692.2" font-size="7.6" text-anchor="middle">28</text>
<text x="167.6" y="692.2" font-size="7.6" text-anchor="middle">7</text>
<text x="181.6" y="692.2" font-size="7.6" text-anchor="middle">10</text>
<text x="193" y="692.2" font-size="7.6" text-anchor="middle">21</text>
<text x="203.2" y="692.2" font-size="7.6" text-anchor="middle">28</text>
<text x="211.2" y="692.2" font-size="7.6" text-anchor="middle">7</text>
<text x="226" y="692.2" font-size="7.6" text-anchor="middle">10</text>
<text x="236.8" y="692.2" font-size="7.6" text-anchor="middle">21</text>
<text x="246.5" y="692.2" font-size="7.6" text-anchor="middle">28</text>
<line x1="85.5" y1="684.3" x2="100.5" y2="684.3" stroke="#141414" stroke-width="1.1"/>
<line x1="129.3" y1="684.3" x2="144.3" y2="684.3" stroke="#141414" stroke-width="1.1"/>
<line x1="173.4" y1="684.3" x2="188.1" y2="684.3" stroke="#141414" stroke-width="1.1"/>
<line x1="217.3" y1="684.3" x2="232.4" y2="684.3" stroke="#141414" stroke-width="1.1"/>
<line x1="77.5" y1="697" x2="118.8" y2="697" stroke="#141414" stroke-width="1.1"/>
<line x1="122.5" y1="697" x2="162.5" y2="697" stroke="#141414" stroke-width="1.1"/>
<line x1="166" y1="697" x2="206" y2="697" stroke="#141414" stroke-width="1.1"/>
<line x1="211.2" y1="697" x2="248.6" y2="697" stroke="#141414" stroke-width="1.1"/>
<text x="98.8" y="707.7" font-size="9" text-anchor="middle" textLength="10.6" lengthAdjust="spacingAndGlyphs">B6</text>
<text x="141.3" y="707.7" font-size="9" text-anchor="middle" font-style="italic" textLength="14" lengthAdjust="spacingAndGlyphs">Prf1</text>
<text x="148.4" y="703.5" font-size="4.8" text-anchor="start" fill="#777" style="stroke:none" textLength="5.5" lengthAdjust="spacingAndGlyphs">-/-</text>
<text x="186" y="707.7" font-size="9" text-anchor="middle" textLength="10.6" lengthAdjust="spacingAndGlyphs">B6</text>
<text x="227.8" y="707.7" font-size="9" text-anchor="middle" font-style="italic" textLength="14" lengthAdjust="spacingAndGlyphs">Prf1</text>
<text x="234.9" y="703.5" font-size="4.8" text-anchor="start" fill="#777" style="stroke:none" textLength="5.5" lengthAdjust="spacingAndGlyphs">-/-</text>
<text x="348.3" y="575.8" font-size="9.6" text-anchor="start" textLength="27.2" lengthAdjust="spacingAndGlyphs" style="stroke-width:0.1px">CD11b</text>
<text x="376.1" y="573.1999999999999" font-size="5.5" text-anchor="start" fill="#555" style="stroke:none">+</text>
<text x="379.8" y="575.8" font-size="9.6" text-anchor="start" textLength="21.8" lengthAdjust="spacingAndGlyphs" style="stroke-width:0.1px">Ly6C</text>
<text x="402.1" y="572.8" font-size="5" text-anchor="start" fill="#666" style="stroke:none" textLength="4.2" lengthAdjust="spacingAndGlyphs">hi</text>
<text x="434.4" y="575.8" font-size="9.6" text-anchor="start" textLength="27.2" lengthAdjust="spacingAndGlyphs" style="stroke-width:0.1px">CD11b</text>
<text x="462.2" y="573.1999999999999" font-size="5.5" text-anchor="start" fill="#555" style="stroke:none">+</text>
<text x="465.9" y="575.8" font-size="9.6" text-anchor="start" textLength="21.8" lengthAdjust="spacingAndGlyphs" style="stroke-width:0.1px">Ly6C</text>
<text x="488.2" y="572.8" font-size="5" text-anchor="start" fill="#666" style="stroke:none" textLength="9" lengthAdjust="spacingAndGlyphs">low</text>
<text transform="translate(287.3,631) rotate(-90)" font-size="9.6" text-anchor="middle" textLength="81" lengthAdjust="spacingAndGlyphs">Relative expression</text>
<text transform="translate(299.8,631) rotate(-90)" font-size="9.6" text-anchor="middle" textLength="67.5" lengthAdjust="spacingAndGlyphs">in macrophages</text>
<rect x="334.6" y="678" width="6.099999999999966" height="2.5" fill="#141414" stroke="none" stroke-width="1"/>
<line x1="337.65" y1="675.8" x2="337.65" y2="678" stroke="#141414" stroke-width="1.1"/>
<line x1="335.84999999999997" y1="675.8" x2="339.45" y2="675.8" stroke="#141414" stroke-width="1.1"/>
<rect x="343.5" y="678" width="5.699999999999989" height="2.5" fill="#141414" stroke="none" stroke-width="1"/>
<rect x="352.6" y="678.1" width="4.699999999999977" height="2.4" fill="url(#hatch)" stroke="#141414" stroke-width="1.2"/>
<rect x="360.8" y="677" width="6.099999999999966" height="3.5" fill="#141414" stroke="none" stroke-width="1"/>
<text x="373.3" y="679.8" font-size="6.5" text-anchor="middle" textLength="8" lengthAdjust="spacingAndGlyphs">ND</text>
<rect x="379.1" y="645.2" width="5.100000000000011" height="35.299999999999976" fill="#fff" stroke="#141414" stroke-width="1.2"/>
<rect x="387.90000000000003" y="664.1" width="4.9999999999999885" height="16.4" fill="#fff" stroke="#141414" stroke-width="1.2"/>
<line x1="390.4" y1="654.6" x2="390.4" y2="663.5" stroke="#141414" stroke-width="1.1"/>
<line x1="388.59999999999997" y1="654.6" x2="392.2" y2="654.6" stroke="#141414" stroke-width="1.1"/>
<rect x="396.6" y="673.8" width="5.799999999999978" height="6.7" fill="#858585" stroke="#707070" stroke-width="0.6"/>
<line x1="399.5" y1="672" x2="399.5" y2="673.5" stroke="#777" stroke-width="1.1"/>
<line x1="397.7" y1="672" x2="401.3" y2="672" stroke="#777" stroke-width="1.1"/>
<rect x="405.3" y="659.9" width="5.700000000000012" height="20.599999999999977" fill="#858585" stroke="#707070" stroke-width="0.6"/>
<line x1="408.15" y1="647" x2="408.15" y2="659.6" stroke="#777" stroke-width="1.1"/>
<line x1="406.34999999999997" y1="647" x2="409.95" y2="647" stroke="#777" stroke-width="1.1"/>
<rect x="414.3" y="675.6999999999999" width="5.799999999999978" height="4.800000000000023" fill="#858585" stroke="#707070" stroke-width="0.6"/>
<rect x="422.3" y="656.2" width="6.399999999999977" height="24.299999999999955" fill="#141414" stroke="none" stroke-width="1"/>
<line x1="425.5" y1="654.2" x2="425.5" y2="656.2" stroke="#141414" stroke-width="1.1"/>
<line x1="423.7" y1="654.2" x2="427.3" y2="654.2" stroke="#141414" stroke-width="1.1"/>
<rect x="431.5" y="676.3" width="6.199999999999989" height="4.2000000000000455" fill="#141414" stroke="none" stroke-width="1"/>
<rect x="440.8" y="677.6" width="5.100000000000011" height="2.9" fill="url(#hatch)" stroke="#141414" stroke-width="1.2"/>
<text x="452.7" y="679.8" font-size="6.5" text-anchor="middle" textLength="8" lengthAdjust="spacingAndGlyphs">ND</text>
<rect x="457.7" y="672.8" width="6.100000000000023" height="7.7000000000000455" fill="#141414" stroke="none" stroke-width="1"/>
<line x1="460.75" y1="665.4" x2="460.75" y2="672.8" stroke="#141414" stroke-width="1.1"/>
<line x1="458.95" y1="665.4" x2="462.55" y2="665.4" stroke="#141414" stroke-width="1.1"/>
<rect x="467.1" y="651.7" width="5.100000000000011" height="28.799999999999976" fill="#fff" stroke="#141414" stroke-width="1.2"/>
<line x1="469.65" y1="649.3" x2="469.65" y2="651.1" stroke="#141414" stroke-width="1.1"/>
<line x1="467.84999999999997" y1="649.3" x2="471.45" y2="649.3" stroke="#141414" stroke-width="1.1"/>
<rect x="476.0" y="659.3000000000001" width="5.100000000000011" height="21.199999999999953" fill="#fff" stroke="#141414" stroke-width="1.2"/>
<line x1="478.54999999999995" y1="653.4" x2="478.54999999999995" y2="658.7" stroke="#141414" stroke-width="1.1"/>
<line x1="476.74999999999994" y1="653.4" x2="480.34999999999997" y2="653.4" stroke="#141414" stroke-width="1.1"/>
<rect x="484.5" y="666.3" width="6.000000000000023" height="14.2" fill="#858585" stroke="#707070" stroke-width="0.6"/>
<line x1="487.5" y1="658.5" x2="487.5" y2="666" stroke="#777" stroke-width="1.1"/>
<line x1="485.7" y1="658.5" x2="489.3" y2="658.5" stroke="#777" stroke-width="1.1"/>
<rect x="493.3" y="641.0999999999999" width="5.700000000000012" height="39.40000000000005" fill="#858585" stroke="#707070" stroke-width="0.6"/>
<line x1="496.15" y1="636.3" x2="496.15" y2="640.8" stroke="#777" stroke-width="1.1"/>
<line x1="494.34999999999997" y1="636.3" x2="497.95" y2="636.3" stroke="#777" stroke-width="1.1"/>
<rect x="501.90000000000003" y="635.0999999999999" width="6.299999999999978" height="45.40000000000005" fill="#858585" stroke="#707070" stroke-width="0.6"/>
<rect x="501.90000000000003" y="606.3" width="6.299999999999978" height="19.599999999999977" fill="#858585" stroke="#707070" stroke-width="0.6"/>
<line x1="505.05" y1="594.6" x2="505.05" y2="606" stroke="#777" stroke-width="1.1"/>
<line x1="503.25" y1="594.6" x2="506.85" y2="594.6" stroke="#777" stroke-width="1.1"/>
<line x1="333.1" y1="580.9" x2="509.3" y2="580.9" stroke="#141414" stroke-width="1.2"/>
<line x1="333.1" y1="580.3" x2="333.1" y2="626.3" stroke="#141414" stroke-width="1.2"/>
<line x1="333.1" y1="635.3" x2="333.1" y2="681.1" stroke="#141414" stroke-width="1.2"/>
<line x1="509.3" y1="580.3" x2="509.3" y2="681.1" stroke="#141414" stroke-width="1.2"/>
<line x1="421.4" y1="580.9" x2="421.4" y2="680.5" stroke="#141414" stroke-width="1.3"/>
<line x1="333.1" y1="680.5" x2="509.3" y2="680.5" stroke="#141414" stroke-width="1.2"/>
<line x1="331.3" y1="626.4" x2="335" y2="626.4" stroke="#141414" stroke-width="1.1"/>
<line x1="331.3" y1="635.3" x2="335" y2="635.3" stroke="#141414" stroke-width="1.1"/>
<line x1="330" y1="580.5" x2="333.1" y2="580.5" stroke="#141414" stroke-width="1"/>
<text x="326.3" y="583.9" font-size="9.9" text-anchor="end" textLength="20.2" lengthAdjust="spacingAndGlyphs">2000</text>
<line x1="330" y1="593.3" x2="333.1" y2="593.3" stroke="#141414" stroke-width="1"/>
<text x="326.3" y="596.6999999999999" font-size="9.9" text-anchor="end" textLength="20.2" lengthAdjust="spacingAndGlyphs">1500</text>
<line x1="330" y1="606.2" x2="333.1" y2="606.2" stroke="#141414" stroke-width="1"/>
<text x="326.3" y="609.6" font-size="9.9" text-anchor="end" textLength="20.2" lengthAdjust="spacingAndGlyphs">1000</text>
<line x1="330" y1="619" x2="333.1" y2="619" stroke="#141414" stroke-width="1"/>
<text x="326.3" y="622.4" font-size="9.9" text-anchor="end" textLength="15.2" lengthAdjust="spacingAndGlyphs">500</text>
<line x1="330" y1="634.8" x2="333.1" y2="634.8" stroke="#141414" stroke-width="1"/>
<text x="326.3" y="638.1999999999999" font-size="9.9" text-anchor="end" textLength="15.2" lengthAdjust="spacingAndGlyphs">200</text>
<line x1="330" y1="646.2" x2="333.1" y2="646.2" stroke="#141414" stroke-width="1"/>
<text x="326.3" y="649.6" font-size="9.9" text-anchor="end" textLength="15.2" lengthAdjust="spacingAndGlyphs">150</text>
<line x1="330" y1="657.7" x2="333.1" y2="657.7" stroke="#141414" stroke-width="1"/>
<text x="326.3" y="661.1" font-size="9.9" text-anchor="end" textLength="15.2" lengthAdjust="spacingAndGlyphs">100</text>
<line x1="330" y1="669.2" x2="333.1" y2="669.2" stroke="#141414" stroke-width="1"/>
<text x="326.3" y="672.6" font-size="9.9" text-anchor="end" textLength="10.1" lengthAdjust="spacingAndGlyphs">50</text>
<line x1="330" y1="680.8" x2="333.1" y2="680.8" stroke="#141414" stroke-width="1"/>
<text x="326.3" y="684.1999999999999" font-size="9.9" text-anchor="end" textLength="5.1" lengthAdjust="spacingAndGlyphs">0</text>
<line x1="337.6" y1="641.5" x2="380.4" y2="641.5" stroke="#141414" stroke-width="1.2"/>
<line x1="337.6" y1="641.5" x2="337.6" y2="673.4" stroke="#141414" stroke-width="1.3"/>
<circle cx="358.1" cy="636.9" r="1.15" fill="#111"/>
<circle cx="362.6" cy="636.9" r="1.15" fill="#111"/>
<line x1="487" y1="589.3" x2="497" y2="589.3" stroke="#141414" stroke-width="1.2"/>
<line x1="487" y1="592.2" x2="504.8" y2="592.2" stroke="#141414" stroke-width="1.2"/>
<line x1="487" y1="589.5" x2="487" y2="655.4" stroke="#141414" stroke-width="1.1"/>
<circle cx="492.7" cy="586.1" r="1.15" fill="#111"/>
<text x="337.3" y="692.2" font-size="7.6" text-anchor="middle">7</text>
<text x="350.3" y="692.2" font-size="7.6" text-anchor="middle">10</text>
<text x="363.3" y="692.2" font-size="7.6" text-anchor="middle">21</text>
<text x="373.4" y="692.2" font-size="7.6" text-anchor="middle">28</text>
<text x="381.5" y="692.2" font-size="7.6" text-anchor="middle">7</text>
<text x="396.2" y="692.2" font-size="7.6" text-anchor="middle">10</text>
<text x="406.5" y="692.2" font-size="7.6" text-anchor="middle">21</text>
<text x="417.2" y="692.2" font-size="7.6" text-anchor="middle">28</text>
<text x="424.8" y="692.2" font-size="7.6" text-anchor="middle">7</text>
<text x="439.2" y="692.2" font-size="7.6" text-anchor="middle">10</text>
<text x="449.8" y="692.2" font-size="7.6" text-anchor="middle">21</text>
<text x="460.4" y="692.2" font-size="7.6" text-anchor="middle">28</text>
<text x="468" y="692.2" font-size="7.6" text-anchor="middle">7</text>
<text x="482.5" y="692.2" font-size="7.6" text-anchor="middle">10</text>
<text x="496" y="692.2" font-size="7.6" text-anchor="middle">21</text>
<text x="506.5" y="692.2" font-size="7.6" text-anchor="middle">28</text>
<line x1="343.5" y1="683.7" x2="357.9" y2="683.7" stroke="#141414" stroke-width="1.1"/>
<line x1="387.3" y1="683.7" x2="402" y2="683.7" stroke="#141414" stroke-width="1.1"/>
<line x1="431.5" y1="683.7" x2="446.5" y2="683.7" stroke="#141414" stroke-width="1.1"/>
<line x1="475.8" y1="683.7" x2="490.8" y2="683.7" stroke="#141414" stroke-width="1.1"/>
<line x1="335.4" y1="697" x2="377.7" y2="697" stroke="#141414" stroke-width="1.1"/>
<line x1="380.8" y1="697" x2="420.8" y2="697" stroke="#141414" stroke-width="1.1"/>
<line x1="423.8" y1="697" x2="465.4" y2="697" stroke="#141414" stroke-width="1.1"/>
<line x1="469.2" y1="697" x2="511.2" y2="697" stroke="#141414" stroke-width="1.1"/>
<text x="357.3" y="707.7" font-size="9" text-anchor="middle" textLength="10.6" lengthAdjust="spacingAndGlyphs">B6</text>
<text x="398.3" y="707.7" font-size="9" text-anchor="middle" font-style="italic" textLength="14" lengthAdjust="spacingAndGlyphs">Prf1</text>
<text x="405.40000000000003" y="703.5" font-size="4.8" text-anchor="start" fill="#777" style="stroke:none" textLength="5.5" lengthAdjust="spacingAndGlyphs">-/-</text>
<text x="443.8" y="707.7" font-size="9" text-anchor="middle" textLength="10.6" lengthAdjust="spacingAndGlyphs">B6</text>
<text x="486.0" y="707.7" font-size="9" text-anchor="middle" font-style="italic" textLength="14" lengthAdjust="spacingAndGlyphs">Prf1</text>
<text x="493.1" y="703.5" font-size="4.8" text-anchor="start" fill="#777" style="stroke:none" textLength="5.5" lengthAdjust="spacingAndGlyphs">-/-</text>
<rect x="154.3" y="724.2" width="11.1" height="6.1" fill="#141414" stroke="none" stroke-width="1"/>
<text x="168.8" y="730.3" font-size="8.8" text-anchor="start" textLength="10.1" lengthAdjust="spacingAndGlyphs">B6</text>
<rect x="206.8" y="724.6" width="10.6" height="5.3" fill="url(#hatch)" stroke="#141414" stroke-width="1.1"/>
<text x="221.1" y="730.3" font-size="8.8" text-anchor="start" textLength="48.6" lengthAdjust="spacingAndGlyphs">B6 ruxolitinib</text>
<rect x="288.6" y="724.6" width="11" height="5.3" fill="#fff" stroke="#141414" stroke-width="1.1"/>
<text x="304.4" y="730.3" font-size="8.8" text-anchor="start" font-style="italic" textLength="14.5" lengthAdjust="spacingAndGlyphs">Prf1</text>
<text x="319.3" y="725.8" font-size="4.8" text-anchor="start" fill="#777" style="stroke:none" textLength="5.5" lengthAdjust="spacingAndGlyphs">-/-</text>
<rect x="340" y="723.9" width="10.8" height="6.5" fill="#858585" stroke="none" stroke-width="1"/>
<text x="356.5" y="730.5" font-size="8.8" text-anchor="start" font-style="italic" textLength="14.5" lengthAdjust="spacingAndGlyphs">Prf1</text>
<text x="371.3" y="726" font-size="4.8" text-anchor="start" fill="#777" style="stroke:none" textLength="5.5" lengthAdjust="spacingAndGlyphs">-/-</text>
<text x="378" y="730.5" font-size="8.8" text-anchor="start" textLength="35.5" lengthAdjust="spacingAndGlyphs">ruxolitinib</text>
<rect x="0.5" y="0.5" width="519" height="739" fill="none" stroke="#1a1a1a" stroke-width="1.2"/>
</svg></body></html>
